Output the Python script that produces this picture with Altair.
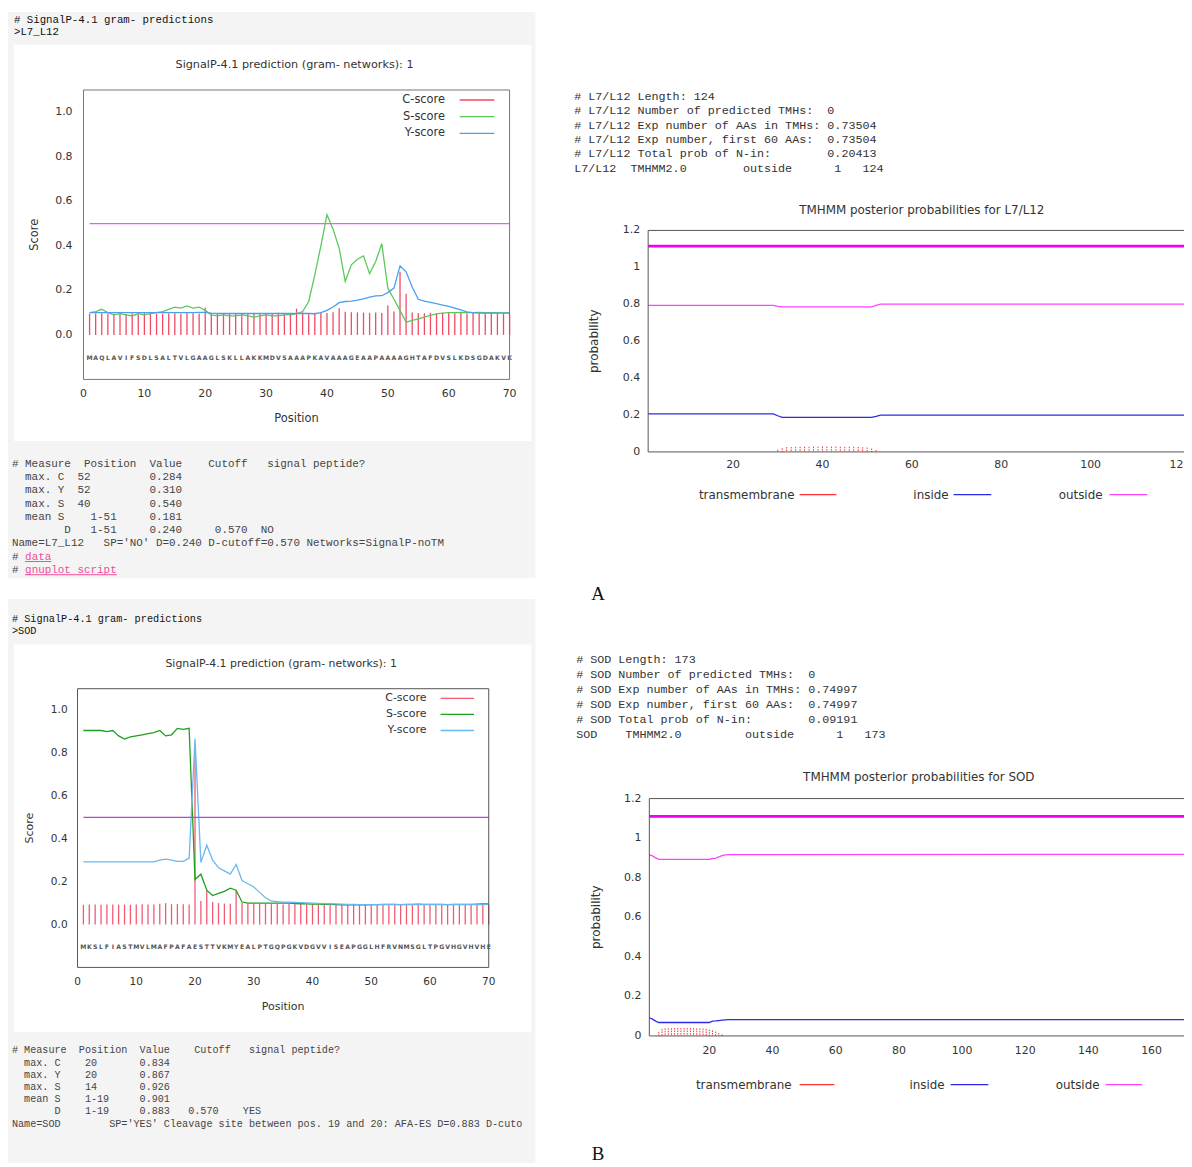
import altair as alt
import pandas as pd

W, H = 1184, 1159
NB = "\u00a0"
ZW = "\u200b"
MONO = "Liberation Mono"
SANS = "DejaVu Sans"
SERIF = "Liberation Serif"

# ---------------- SignalP data (positions 1..70) ----------------
sp_positions = list(range(1, 71))

l7_seq = "MAQLAVIFSDLSALTVLGAAGLSKLLAKKMDVSAAAPKAVAAAGEAAPAAAAGHTAFDVSLKDSGDAKVK"
l7_c = [0.095, 0.096, 0.097, 0.094, 0.095, 0.096, 0.094, 0.097, 0.095, 0.098,
        0.096, 0.094, 0.095, 0.096, 0.097, 0.095, 0.099, 0.097, 0.096, 0.122,
        0.098, 0.096, 0.097, 0.095, 0.096, 0.098, 0.095, 0.097, 0.096, 0.098,
        0.097, 0.099, 0.096, 0.098, 0.118, 0.101, 0.097, 0.099, 0.100, 0.098,
        0.102, 0.120, 0.104, 0.102, 0.101, 0.100, 0.099, 0.101, 0.098, 0.132,
        0.105, 0.284, 0.185, 0.100, 0.098, 0.097, 0.099, 0.098, 0.100, 0.101,
        0.097, 0.099, 0.096, 0.098, 0.097, 0.096, 0.098, 0.097, 0.096, 0.095]
l7_s = [0.100, 0.105, 0.115, 0.100, 0.090, 0.095, 0.090, 0.085, 0.095, 0.090,
        0.095, 0.100, 0.105, 0.115, 0.125, 0.120, 0.130, 0.120, 0.125, 0.110,
        0.090, 0.085, 0.090, 0.085, 0.085, 0.090, 0.085, 0.080, 0.085, 0.090,
        0.085, 0.085, 0.090, 0.090, 0.095, 0.105, 0.150, 0.270, 0.400, 0.540,
        0.475, 0.390, 0.240, 0.315, 0.340, 0.355, 0.275, 0.330, 0.410, 0.210,
        0.160, 0.110, 0.057, 0.065, 0.072, 0.080, 0.088, 0.094, 0.098, 0.100,
        0.100, 0.101, 0.100, 0.100, 0.101, 0.100, 0.100, 0.100, 0.099, 0.100]
l7_y = [0.100, 0.100, 0.100, 0.100, 0.100, 0.100, 0.100, 0.100, 0.100, 0.100,
        0.100, 0.100, 0.100, 0.100, 0.100, 0.100, 0.100, 0.100, 0.101, 0.101,
        0.098, 0.096, 0.096, 0.096, 0.096, 0.096, 0.096, 0.096, 0.096, 0.096,
        0.096, 0.096, 0.096, 0.096, 0.096, 0.097, 0.096, 0.095, 0.100, 0.110,
        0.125, 0.145, 0.150, 0.152, 0.156, 0.162, 0.170, 0.175, 0.176, 0.190,
        0.210, 0.310, 0.283, 0.215, 0.160, 0.152, 0.146, 0.140, 0.134, 0.128,
        0.120, 0.112, 0.103, 0.100, 0.098, 0.098, 0.098, 0.098, 0.098, 0.098]

sod_seq = "MKSLFIASTMVLMAFPAFAESTTVKMYEALPTGQPGKVDGVVISEAPGGLHFRVNMSGLTPGVHGVHVHE"
sod_c = [0.092, 0.093, 0.094, 0.092, 0.093, 0.094, 0.092, 0.093, 0.092, 0.094,
         0.095, 0.093, 0.094, 0.097, 0.100, 0.095, 0.096, 0.095, 0.094, 0.834,
         0.110, 0.160, 0.105, 0.100, 0.098, 0.097, 0.160, 0.100, 0.097, 0.099,
         0.096, 0.097, 0.095, 0.096, 0.094, 0.096, 0.095, 0.100, 0.094, 0.095,
         0.093, 0.094, 0.093, 0.092, 0.093, 0.092, 0.093, 0.094, 0.092, 0.093,
         0.094, 0.092, 0.096, 0.093, 0.092, 0.093, 0.095, 0.093, 0.092, 0.093,
         0.092, 0.093, 0.094, 0.092, 0.093, 0.092, 0.093, 0.094, 0.093, 0.094]
sod_s = [0.905, 0.905, 0.905, 0.905, 0.900, 0.905, 0.880, 0.865, 0.875, 0.880,
         0.885, 0.890, 0.895, 0.905, 0.880, 0.885, 0.915, 0.910, 0.915, 0.210,
         0.235, 0.160, 0.135, 0.145, 0.155, 0.170, 0.160, 0.105, 0.100, 0.100,
         0.100, 0.100, 0.100, 0.100, 0.100, 0.100, 0.098, 0.097, 0.096, 0.095,
         0.095, 0.094, 0.094, 0.093, 0.092, 0.092, 0.092, 0.092, 0.092, 0.093,
         0.093, 0.094, 0.094, 0.094, 0.093, 0.094, 0.094, 0.095, 0.094, 0.094,
         0.094, 0.094, 0.093, 0.094, 0.094, 0.094, 0.094, 0.095, 0.096, 0.096]
sod_y = [0.292, 0.292, 0.292, 0.292, 0.292, 0.292, 0.292, 0.292, 0.292, 0.292,
         0.292, 0.292, 0.292, 0.300, 0.305, 0.300, 0.295, 0.295, 0.310, 0.867,
         0.290, 0.370, 0.300, 0.265, 0.250, 0.235, 0.280, 0.205, 0.190, 0.175,
         0.150, 0.125, 0.110, 0.107, 0.105, 0.104, 0.103, 0.102, 0.101, 0.100,
         0.099, 0.098, 0.097, 0.096, 0.095, 0.094, 0.094, 0.093, 0.093, 0.093,
         0.093, 0.093, 0.093, 0.093, 0.093, 0.093, 0.093, 0.093, 0.093, 0.093,
         0.093, 0.093, 0.093, 0.093, 0.093, 0.093, 0.093, 0.093, 0.093, 0.094]

sp_ticks_x = [0, 10, 20, 30, 40, 50, 60, 70]
sp_ticks_y = [0.0, 0.2, 0.4, 0.6, 0.8, 1.0]
sp_legend = ["C-score", "S-score", "Y-score"]

# ---------------- TMHMM data ----------------
l7_len = 124
l7_topology_pos = [1, 124]
l7_topology_val = [1.115, 1.115]
l7_inside_pos = [1, 29, 30, 31, 51, 52, 53, 124]
l7_inside_val = [0.206, 0.206, 0.196, 0.187, 0.187, 0.192, 0.199, 0.199]
l7_outside_pos = [1, 29, 30, 31, 51, 52, 53, 124]
l7_outside_val = [0.794, 0.794, 0.789, 0.786, 0.786, 0.794, 0.801, 0.801]
l7_tm_pos = [30, 31, 32, 33, 34, 35, 36, 37, 38, 39, 40, 41, 42, 43, 44, 45,
             46, 47, 48, 49, 50, 51, 52]
l7_tm_val = [0.012, 0.020, 0.026, 0.027, 0.028, 0.028, 0.028, 0.028, 0.029,
             0.029, 0.029, 0.029, 0.029, 0.029, 0.028, 0.028, 0.028, 0.028,
             0.027, 0.026, 0.024, 0.018, 0.010]

sod_len = 173
sod_topology_pos = [1, 173]
sod_topology_val = [1.11, 1.11]
sod_inside_pos = [1, 2, 3, 4, 20, 21, 22, 23, 24, 25, 26, 173]
sod_inside_val = [0.092, 0.085, 0.075, 0.068, 0.068, 0.075, 0.076, 0.078,
                  0.080, 0.081, 0.082, 0.082]
sod_outside_pos = [1, 2, 3, 4, 20, 21, 22, 23, 24, 25, 26, 173]
sod_outside_val = [0.915, 0.910, 0.900, 0.893, 0.893, 0.897, 0.899, 0.905,
                   0.912, 0.915, 0.917, 0.918]
sod_tm_pos = [4, 5, 6, 7, 8, 9, 10, 11, 12, 13, 14, 15, 16, 17, 18, 19, 20,
              21, 22, 23, 24]
sod_tm_val = [0.020, 0.035, 0.038, 0.039, 0.039, 0.040, 0.040, 0.040, 0.040,
              0.040, 0.040, 0.039, 0.039, 0.038, 0.037, 0.035, 0.032, 0.028,
              0.022, 0.015, 0.008]

tm_ticks_y = [0, 0.2, 0.4, 0.6, 0.8, 1, 1.2]
l7_ticks_x = [20, 40, 60, 80, 100, 120]
sod_ticks_x = [20, 40, 60, 80, 100, 120, 140, 160]
tm_legend = ["transmembrane", "inside", "outside"]

# ---------------- text content ----------------
l7_header = ["# SignalP-4.1 gram- predictions", ">L7_L12"]
l7_footer = [
    "# Measure  Position  Value    Cutoff   signal peptide?",
    "  max. C  52         0.284",
    "  max. Y  52         0.310",
    "  max. S  40         0.540",
    "  mean S    1-51     0.181",
    "        D   1-51     0.240     0.570  NO",
    "Name=L7_L12   SP='NO' D=0.240 D-cutoff=0.570 Networks=SignalP-noTM",
]
l7_links = ["data", "gnuplot script"]
sod_header = ["# SignalP-4.1 gram- predictions", ">SOD"]
sod_footer = [
    "# Measure  Position  Value    Cutoff   signal peptide?",
    "  max. C    20       0.834",
    "  max. Y    20       0.867",
    "  max. S    14       0.926",
    "  mean S    1-19     0.901",
    "       D    1-19     0.883   0.570    YES",
    "Name=SOD        SP='YES' Cleavage site between pos. 19 and 20: AFA-ES D=0.883 D-cuto",
]
l7_tm_text = [
    "# L7/L12 Length: 124",
    "# L7/L12 Number of predicted TMHs:  0",
    "# L7/L12 Exp number of AAs in TMHs: 0.73504",
    "# L7/L12 Exp number, first 60 AAs:  0.73504",
    "# L7/L12 Total prob of N-in:        0.20413",
    "L7/L12  TMHMM2.0        outside      1   124",
]
sod_tm_text = [
    "# SOD Length: 173",
    "# SOD Number of predicted TMHs:  0",
    "# SOD Exp number of AAs in TMHs: 0.74997",
    "# SOD Exp number, first 60 AAs:  0.74997",
    "# SOD Total prob of N-in:        0.09191",
    "SOD    TMHMM2.0         outside      1   173",
]

one = pd.DataFrame({"k": [0]})


# ---------------- helpers ----------------
def px_rect(x, x2, y, y2, fill):
    return alt.Chart(one).mark_rect(fill=fill).encode(
        x=alt.value(x), x2=alt.value(x2), y=alt.value(y), y2=alt.value(y2))


def px_text(txt, x, y, fs, color, font=SANS, align="center", weight="normal"):
    return alt.Chart(one).mark_text(
        text=txt, font=font, fontSize=fs, color=color, align=align,
        baseline="middle", fontWeight=weight
    ).encode(x=alt.value(x), y=alt.value(y))


def text_block(lines, x, y_center, lh, fs, color, weight="normal"):
    txt = "\n".join(ZW + s.replace(" ", NB) for s in lines)
    return alt.Chart(pd.DataFrame({"t": [txt]})).mark_text(
        align="left", baseline="alphabetic", lineBreak="\n", lineHeight=lh,
        font=MONO, fontSize=fs, color=color, fontWeight=weight
    ).encode(x=alt.value(x), y=alt.value(y_center + 0.34 * fs), text="t:N")


def link_line(link, x0, y_center, fs, hash_color, link_color):
    cw = 0.6 * fs
    base_y = y_center + 0.34 * fs
    hs = alt.Chart(one).mark_text(
        text="#", align="left", baseline="alphabetic", font=MONO, fontSize=fs,
        color=hash_color).encode(x=alt.value(x0), y=alt.value(base_y))
    lk = alt.Chart(one).mark_text(
        text=link, align="left", baseline="alphabetic", font=MONO, fontSize=fs,
        color=link_color).encode(x=alt.value(x0 + 2 * cw), y=alt.value(base_y))
    ul = alt.Chart(one).mark_rule(color=link_color, strokeWidth=1).encode(
        x=alt.value(x0 + 2 * cw), x2=alt.value(x0 + 2 * cw + len(link) * cw),
        y=alt.value(base_y + 2))
    return [hs, lk, ul]


def tick_labels(x_ticks, y_ticks, x_at, y_at, x_fmt, y_fmt, fs, x_dy, y_dx):
    xl = alt.Chart(pd.DataFrame({"v": x_ticks})).mark_text(
        font=SANS, fontSize=fs, color="#333", baseline="middle", dy=x_dy
    ).encode(x=alt.X("v:Q", axis=None), y=alt.YDatum(y_at, axis=None),
             text=alt.Text("v:Q", format=x_fmt))
    yl = alt.Chart(pd.DataFrame({"v": y_ticks})).mark_text(
        font=SANS, fontSize=fs, color="#333", baseline="middle",
        align="right", dx=-y_dx
    ).encode(x=alt.XDatum(x_at, axis=None), y=alt.Y("v:Q", axis=None),
             text=alt.Text("v:Q", format=y_fmt))
    return [xl, yl]


def signalp_plot(c, s, y, seq, x_rng, y_rng, cols, fs, score_x, frame_col,
                 y_dx):
    df = pd.DataFrame({"pos": sp_positions, "C": c, "S": s, "Y": y,
                       "aa": list(seq)})
    xs = alt.Scale(domain=[0, 70], range=x_rng, nice=False, zero=False)
    ys = alt.Scale(domain=[-0.2, 1.1], range=y_rng, nice=False, zero=False)
    base = alt.Chart(df)
    layers = [
        base.mark_rule(color=cols["C"], strokeWidth=1.3).encode(
            x=alt.X("pos:Q", scale=xs, axis=None),
            y=alt.Y("C:Q", scale=ys, axis=None),
            y2=alt.Y2Datum(0)),
        base.mark_line(color=cols["S"], strokeWidth=1.3).encode(
            x=alt.X("pos:Q", axis=None), y=alt.Y("S:Q", axis=None)),
        base.mark_line(color=cols["Y"], strokeWidth=1.3).encode(
            x=alt.X("pos:Q", axis=None), y=alt.Y("Y:Q", axis=None)),
        alt.Chart(one).mark_rule(color=cols["cut"], strokeWidth=1.2).encode(
            x=alt.XDatum(1, axis=None), x2=alt.X2Datum(70),
            y=alt.YDatum(0.5, axis=None)),
        base.mark_text(font=SANS, fontSize=6.2, fontWeight="bold",
                       color="#555").encode(
            x=alt.X("pos:Q", axis=None), y=alt.YDatum(-0.105, axis=None),
            text="aa:N"),
    ]
    leg_cols = [cols["C"], cols["S"], cols["Y"]]
    leg_y = [1.055, 0.98, 0.905]
    for lab, lc, ly in zip(sp_legend, leg_cols, leg_y):
        layers.append(alt.Chart(one).mark_text(
            text=lab, align="right", baseline="middle", font=SANS,
            fontSize=fs + 0.5, color="#333").encode(
            x=alt.XDatum(59.4, axis=None), y=alt.YDatum(ly, axis=None)))
        layers.append(alt.Chart(one).mark_rule(color=lc, strokeWidth=1.3).encode(
            x=alt.XDatum(61.8, axis=None), x2=alt.X2Datum(67.5),
            y=alt.YDatum(ly, axis=None)))
    layers.append(alt.Chart(one).mark_rect(
        fillOpacity=0, stroke=frame_col, strokeWidth=1).encode(
        x=alt.XDatum(0, axis=None), x2=alt.X2Datum(70),
        y=alt.YDatum(-0.2, axis=None), y2=alt.Y2Datum(1.1)))
    layers += tick_labels(sp_ticks_x, sp_ticks_y, 0, -0.2, "d", ".1f", fs,
                          15, y_dx)
    layers.append(alt.Chart(one).mark_text(
        text="Position", font=SANS, fontSize=fs + 0.5, color="#333",
        baseline="middle", dy=40).encode(
        x=alt.XDatum(35, axis=None), y=alt.YDatum(-0.2, axis=None)))
    layers.append(alt.Chart(one).mark_text(
        text="Score", font=SANS, fontSize=fs + 0.5, color="#333",
        baseline="middle", angle=270).encode(
        x=alt.XDatum(score_x, axis=None), y=alt.YDatum(0.45, axis=None)))
    return alt.layer(*layers)


def tmhmm_plot(length, top_pos, top_val, in_pos, in_val, out_pos, out_val,
               tm_pos, tm_val, x_rng, y_rng, xticks, prob_x, x_dy):
    xs = alt.Scale(domain=[1, length], range=x_rng, nice=False, zero=False)
    ys = alt.Scale(domain=[0, 1.2], range=y_rng, nice=False, zero=False)
    d_in = pd.DataFrame({"pos": in_pos, "val": in_val})
    d_out = pd.DataFrame({"pos": out_pos, "val": out_val})
    d_tm = pd.DataFrame({"pos": tm_pos, "val": tm_val})
    d_top = pd.DataFrame({"pos": top_pos, "val": top_val})
    layers = [
        alt.Chart(d_in).mark_line(color="#2a2ae8", strokeWidth=1.3).encode(
            x=alt.X("pos:Q", scale=xs, axis=None),
            y=alt.Y("val:Q", scale=ys, axis=None)),
        alt.Chart(d_out).mark_line(color="#ff44ff", strokeWidth=1.3).encode(
            x=alt.X("pos:Q", axis=None), y=alt.Y("val:Q", axis=None)),
        alt.Chart(d_tm).mark_rule(color="#ff3030", strokeWidth=1,
                                  strokeDash=[1.5, 1]).encode(
            x=alt.X("pos:Q", axis=None), y=alt.Y("val:Q", axis=None),
            y2=alt.Y2Datum(0)),
        alt.Chart(d_top).mark_line(color="#f000f0", strokeWidth=3).encode(
            x=alt.X("pos:Q", axis=None), y=alt.Y("val:Q", axis=None)),
        alt.Chart(one).mark_rect(fillOpacity=0, stroke="#555",
                                 strokeWidth=1).encode(
            x=alt.XDatum(1, axis=None), x2=alt.X2Datum(length),
            y=alt.YDatum(0, axis=None), y2=alt.Y2Datum(1.2)),
    ]
    layers += tick_labels(xticks, tm_ticks_y, 1, 0, "d", "~g", 11, x_dy, 8)
    layers.append(alt.Chart(one).mark_text(
        text="probability", font=SANS, fontSize=12, color="#333",
        baseline="middle", angle=270).encode(
        x=alt.XDatum(prob_x, axis=None), y=alt.YDatum(0.6, axis=None)))
    return alt.layer(*layers)


def tm_legend_row(y, specs):
    out = []
    colors = ["#ff3030", "#2a2ae8", "#ff44ff"]
    for lab, col, (tx, lx0, lx1) in zip(tm_legend, colors, specs):
        out.append(px_text(lab, tx, y, 12, "#333", align="right"))
        out.append(alt.Chart(one).mark_rule(color=col, strokeWidth=1.3).encode(
            x=alt.value(lx0), x2=alt.value(lx1), y=alt.value(y)))
    return out


layers = []

# backgrounds of the left (SignalP web page) panels
layers += [
    px_rect(0, 531, 0, 570, "#f4f4f4"),
    px_rect(6, 527, 33, 432, "#ffffff"),
    px_rect(0, 531, 591, H, "#f4f4f4"),
    px_rect(6, 527, 637, 1027, "#ffffff"),
]

# ---- panel A, SignalP ----
layers.append(text_block(l7_header, 6, 7, 13, 10.8, "#111"))
layers.append(px_text("SignalP-4.1 prediction (gram- networks): 1", 288.5, 53,
                      11.3, "#333"))
layers.append(signalp_plot(
    l7_c, l7_s, l7_y, l7_seq, [76, 505], [370, 78.6],
    {"C": "#f04a64", "S": "#5cc85c", "Y": "#4aa0f0", "cut": "#e060f0"},
    11, -8.0, "#777", 11))
layers.append(text_block(l7_footer, 4, 454.5, 13.3, 11, "#444"))
layers += link_line(l7_links[0], 4, 454.5 + 13.3 * 7, 11, "#444", "#ee4f9a")
layers += link_line(l7_links[1], 4, 454.5 + 13.3 * 8, 11, "#444", "#ee4f9a")

# ---- panel A, TMHMM ----
layers.append(text_block(l7_tm_text, 570, 84.5, 14.5, 11.8, "#333"))
layers.append(px_text("TMHMM posterior probabilities for L7/L12", 920, 199, 12,
                      "#333"))
layers.append(tmhmm_plot(
    l7_len, l7_topology_pos, l7_topology_val, l7_inside_pos, l7_inside_val,
    l7_outside_pos, l7_outside_val, l7_tm_pos, l7_tm_val,
    [644.5, 1198], [443, 220], l7_ticks_x, -11.1, 13))
layers += tm_legend_row(486, [(792, 797, 834), (947, 952, 990),
                              (1102, 1109, 1147)])
layers.append(px_text("A", 594, 586, 19, "#111", font=SERIF))

# ---- panel B, SignalP ----
layers.append(text_block(sod_header, 4, 611, 12, 10.3, "#111"))
layers.append(px_text("SignalP-4.1 prediction (gram- networks): 1", 275, 657,
                      11, "#333"))
layers.append(signalp_plot(
    sod_c, sod_s, sod_y, sod_seq, [70, 484], [962, 681.4],
    {"C": "#f25a72", "S": "#1f9f1f", "Y": "#6ab8f0", "cut": "#c040e8"},
    10.6, -8.1, "#555", 10))
layers.append(text_block(sod_footer, 4, 1045, 12.3, 10.2, "#444"))

# ---- panel B, TMHMM ----
layers.append(text_block(sod_tm_text, 572, 651, 15.2, 11.8, "#333"))
layers.append(px_text("TMHMM posterior probabilities for SOD", 917, 770, 12,
                      "#333"))
layers.append(tmhmm_plot(
    sod_len, sod_topology_pos, sod_topology_val, sod_inside_pos,
    sod_inside_val, sod_outside_pos, sod_outside_val, sod_tm_pos, sod_tm_val,
    [645.7, 1192.7], [1031, 792], sod_ticks_x, -15.9, 15))
layers += tm_legend_row(1080, [(789, 797, 832), (943, 949, 987),
                               (1099, 1105, 1142)])
layers.append(px_text("B", 594, 1150, 19, "#111", font=SERIF))

chart = alt.layer(*layers).resolve_scale(
    x="independent", y="independent"
).properties(
    width=W, height=H, padding=0, background="white",
    autosize=alt.AutoSizeParams(type="none")
).configure_view(strokeWidth=0)

chart.save("out.html", embed_options={"renderer": "svg", "actions": False})
